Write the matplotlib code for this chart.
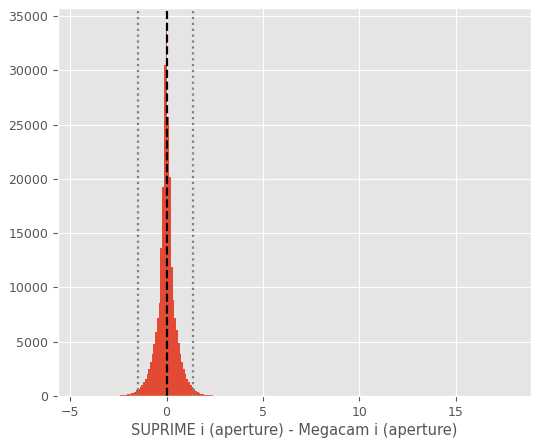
import numpy as np
import matplotlib
matplotlib.use('Agg')
import matplotlib.pyplot as plt

plt.style.use('ggplot')
plt.rcParams['xtick.labelsize'] = 9
plt.rcParams['ytick.labelsize'] = 9

# histogram of magnitude differences (counts per bin, bin width 0.09, centred on 0)
BIN_WIDTH = 0.09
bin_centers = np.round(np.arange(-33, 31) * BIN_WIDTH, 3)
counts = [
    10, 14, 18, 22, 28, 35, 45, 55, 70, 90, 115, 145, 185, 240, 310, 400,
    520, 660, 830, 1050, 1300, 1600, 2000, 2500, 3100, 3900, 4800, 5900,
    7200, 8600, 13630, 19250, 30480,
    34000,
    25700, 20170, 11880, 8800, 7200, 6100, 4900, 3900, 3100, 2500, 2000,
    1600, 1300, 1050, 820, 650, 500, 380, 290, 220, 170, 130, 100, 80, 60,
    50, 40, 30, 20, 15,
]
median_diff = 0.02
clip_lo, clip_hi = -1.49, 1.36

edges = np.append(bin_centers - BIN_WIDTH / 2, bin_centers[-1] + BIN_WIDTH / 2)

fig = plt.figure(figsize=(5.33, 4.41), dpi=100)
ax = fig.add_axes([0.109, 0.102, 0.887, 0.880])
ax.hist(bin_centers, bins=edges, weights=counts, color='#E24A33')
ax.axvline(median_diff, color='black', linestyle='--', linewidth=1.6)
ax.axvline(clip_lo, color='gray', linestyle=':', linewidth=1.6)
ax.axvline(clip_hi, color='gray', linestyle=':', linewidth=1.6)

ax.set_xlim(-5.62, 18.89)
ax.set_ylim(0, 35737)
ax.set_xticks([-5, 0, 5, 10, 15])
ax.set_yticks(np.arange(0, 35001, 5000))
ax.set_xlabel('SUPRIME i (aperture) - Megacam i (aperture)', fontsize=10.5, labelpad=3)

fig.savefig('out.png', dpi=100)
